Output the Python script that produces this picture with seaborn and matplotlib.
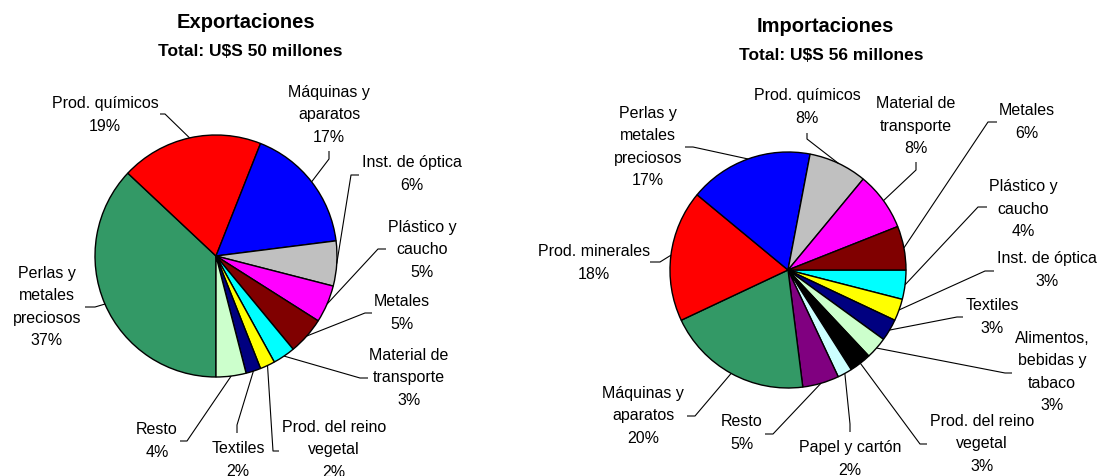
import numpy as np
import matplotlib
matplotlib.use("Agg")
import matplotlib.pyplot as plt
import seaborn as sns

sns.set_theme(style="white")
plt.rcParams['font.family'] = ['Liberation Sans', 'DejaVu Sans']

# ============================================
# DATA
# ============================================

# Exportaciones (clockwise, starting at 6 o'clock)
exp_cats = ["Perlas y\nmetales\npreciosos", "Prod. químicos", "Máquinas y\naparatos",
            "Inst. de óptica", "Plástico y\ncaucho", "Metales", "Material de\ntransporte",
            "Prod. del reino\nvegetal", "Textiles", "Resto"]
exp_vals = [37, 19, 17, 6, 5, 5, 3, 2, 2, 4]
exp_title = "Exportaciones"
exp_total = "Total: U$S 50 millones"

# Importaciones (clockwise, starting at 3 o'clock)
imp_cats = ["Plástico y\ncaucho", "Inst. de óptica", "Textiles", "Alimentos,\nbebidas y\ntabaco",
            "Prod. del reino\nvegetal", "Papel y cartón", "Resto", "Máquinas y\naparatos",
            "Prod. minerales", "Perlas y\nmetales\npreciosos", "Prod. químicos",
            "Material de\ntransporte", "Metales"]
imp_vals = [4, 3, 3, 3, 3, 2, 5, 20, 18, 17, 8, 8, 6]
imp_title = "Importaciones"
imp_total = "Total: U$S 56 millones"

# ============================================
# STYLE / LAYOUT (pixel coords, y from top)
# ============================================

exp_colors = ["#339966", "#FF0000", "#0000FF", "#C0C0C0", "#FF00FF", "#800000",
              "#00FFFF", "#FFFF00", "#000080", "#CCFFCC"]
imp_colors = ["#00FFFF", "#FFFF00", "#000080", "#CCFFCC", "#000000", "#CCFFFF",
              "#800080", "#339966", "#FF0000", "#0000FF", "#C0C0C0", "#FF00FF", "#800000"]

W, H = 1098, 477

# text centre, leader anchor at label, leader elbow
exp_layout = [
    ((47, 307), (85, 308), (95, 308)),
    ((105, 115), (160, 115), (165, 115)),
    ((329, 115), (329, 152), (329, 160)),
    ((412, 174), (359, 176), (351, 176)),
    ((422, 250), (386, 250), (378, 250)),
    ((402, 313), (372, 314), (365, 314)),
    ((409, 378), (368, 379), (360, 379)),
    ((334, 450), (279, 452), (273, 452)),
    ((238, 460), (237, 434), (237, 426)),
    ((157, 441), (180, 442), (187, 442)),
]
imp_layout = [
    ((1023, 209), (987, 208), (978, 208)),
    ((1047, 270), (994, 272), (985, 272)),
    ((992, 317), (963, 318), (957, 318)),
    ((1052, 372), (1012, 374), (1005, 374)),
    ((982, 444), (927, 445), (920, 445)),
    ((850, 459), (850, 433), (850, 425)),
    ((742, 433), (765, 435), (773, 435)),
    ((643, 416), (687, 417), (695, 417)),
    ((594, 263), (650, 263), (660, 263)),
    ((648, 147), (685, 148), (693, 148)),
    ((807, 107), (807, 134), (807, 140)),
    ((916, 126), (916, 163), (916, 171)),
    ((1027, 122), (997, 123), (988, 123)),
]

fig = plt.figure(figsize=(W / 100, H / 100), dpi=100)
ax = fig.add_axes([0, 0, 1, 1])


def draw_pie(vals, cats, colors, layout, center, radius, start, title, total, tpos, spos):
    cx, cy = center[0], H - center[1]
    ax.pie(vals, colors=colors, startangle=start, counterclock=False,
           center=(cx, cy), radius=radius,
           wedgeprops=dict(edgecolor="black", linewidth=1.0))
    tot = float(sum(vals))
    cum = 0.0
    for v, cat, (tc, anc, elb) in zip(vals, cats, layout):
        mid = np.deg2rad(start - 360.0 * (cum + v / 2.0) / tot)
        cum += v
        px, py = cx + radius * np.cos(mid), cy + radius * np.sin(mid)
        ax.plot([px, elb[0], anc[0]], [py, H - elb[1], H - anc[1]],
                color="black", lw=0.8, solid_capstyle="butt")
        ax.text(tc[0], H - tc[1], f"{cat}\n{v}%", ha="center", va="center",
                fontsize=11.5, linespacing=1.6, color="black")
    ax.text(tpos[0], H - tpos[1], title, ha="center", va="center",
            fontsize=14.5, fontweight="bold", color="black")
    ax.text(spos[0], H - spos[1], total, ha="center", va="center",
            fontsize=12.5, fontweight="bold", color="black")


draw_pie(exp_vals, exp_cats, exp_colors, exp_layout, (216, 257), 121, -90,
         exp_title, exp_total, (246, 23), (250, 52))
draw_pie(imp_vals, imp_cats, imp_colors, imp_layout, (788, 271), 118, 0,
         imp_title, imp_total, (825, 26), (831, 56))

ax.set_xlim(0, W)
ax.set_ylim(0, H)
ax.axis("off")

fig.savefig("out.png", dpi=100, facecolor="white")
